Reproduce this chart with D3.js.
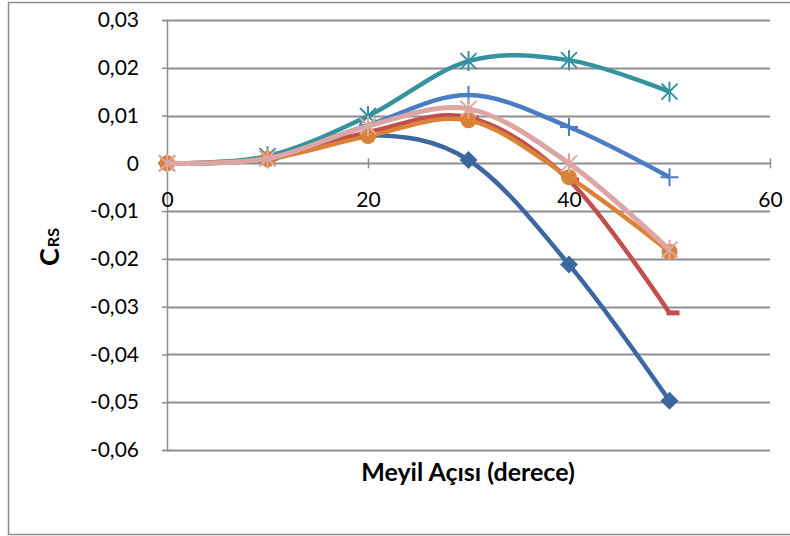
<!DOCTYPE html>
<html lang="tr">
<head>
<meta charset="utf-8">
<script src="https://cdn.jsdelivr.net/npm/d3@7"></script>
<style>
  body { margin: 0; background: #fff; }
  text { font-family: Lato, "Open Sans", sans-serif; fill: #000; }
</style>
</head>
<body>
<script>
  // angles (derece)
  var angles = [0, 10, 20, 30, 40, 50];
  // C_RS values
  var seriesDiamond = [0, 0.0008, 0.0059, 0.0007, -0.0212, -0.0497];
  var seriesRed     = [0, 0.0010, 0.0065, 0.0096, -0.0035, -0.0313];
  var seriesTeal    = [0, 0.0015, 0.0099, 0.0214, 0.0216, 0.0150];
  var seriesPlus    = [0, 0.0010, 0.0080, 0.0143, 0.0076, -0.0029];
  var seriesOrange  = [0, 0.0009, 0.0057, 0.0090, -0.0029, -0.0185];
  var seriesPink    = [0, 0.0010, 0.0078, 0.0114, 0.0000, -0.0181];
  var xTicks = [0, 20, 40, 60];
  var yTicks = [0.03, 0.02, 0.01, 0, -0.01, -0.02, -0.03, -0.04, -0.05, -0.06];

  var w = 790, h = 536;
  var plot = { left: 167, right: 770, top: 20, bottom: 450 };

  var svg = d3.select("body").append("svg")
    .attr("width", w)
    .attr("height", h);

  // chart area border
  svg.append("rect")
    .attr("x", 8.5).attr("y", 2.5)
    .attr("width", 790).attr("height", 532)
    .attr("fill", "#fff")
    .attr("stroke", "#8c8c8c")
    .attr("stroke-width", 1.5);

  var xScale = d3.scaleLinear().domain([0, 60]).range([plot.left, plot.right]);
  var yScale = d3.scaleLinear().domain([-0.06, 0.03]).range([plot.bottom, plot.top]);

  var fmt = function(d) {
    if (Math.abs(d) < 1e-9) return "0";
    return d3.format(".2f")(d).replace(".", ",").replace("−", "-");
  };

  // horizontal gridlines
  svg.append("g").selectAll("line")
    .data(yTicks)
    .enter().append("line")
    .attr("x1", plot.left).attr("x2", plot.right)
    .attr("y1", d => Math.round(yScale(d)) + 0.5)
    .attr("y2", d => Math.round(yScale(d)) + 0.5)
    .attr("stroke", "#8e8e8e")
    .attr("stroke-width", 1.8);

  // y axis
  const yAxis = d3.axisLeft(yScale).tickValues(yTicks).tickFormat(fmt).tickSize(5).tickPadding(23);
  var yg = svg.append("g")
    .attr("transform", "translate(" + plot.left + ",0)")
    .call(yAxis);
  yg.select(".domain").attr("stroke", "#8e8e8e").attr("stroke-width", 1.5);
  yg.selectAll(".tick line").attr("stroke", "#8e8e8e").attr("stroke-width", 1.5);
  yg.selectAll(".tick text").attr("font-size", 21).attr("font-family", "Lato, sans-serif");

  // x axis crosses at 0
  const xAxis = d3.axisBottom(xScale).tickValues(xTicks).tickFormat(d3.format("d")).tickSize(5).tickPadding(24);
  var xg = svg.append("g")
    .attr("transform", "translate(0," + yScale(0) + ")")
    .call(xAxis);
  xg.select(".domain").attr("stroke", "none");
  xg.selectAll(".tick line").attr("stroke", "#8e8e8e").attr("stroke-width", 1.5).attr("y1", -5);
  xg.selectAll(".tick text").attr("font-size", 21).attr("font-family", "Lato, sans-serif");

  var line = d3.line()
    .x((d, i) => xScale(angles[i]))
    .y(d => yScale(d))
    .curve(d3.curveCardinal.tension(0));

  var series = [
    { values: seriesDiamond, color: "#3C67A0", marker: "diamond", width: 4.5 },
    { values: seriesRed,     color: "#C24F4C", marker: "dash",    width: 4.5 },
    { values: seriesTeal,    color: "#35939F", marker: "star",    width: 4.5 },
    { values: seriesPlus,    color: "#4A7DC4", marker: "plus",    width: 4.5 },
    { values: seriesOrange,  color: "#DA8238", marker: "circle",  width: 4.5 },
    { values: seriesPink,    color: "#DBA6A3", marker: "x",       width: 5 }
  ];

  series.forEach(function(s) {
    var g = svg.append("g");
    g.append("path")
      .datum(s.values)
      .attr("d", line)
      .attr("fill", "none")
      .attr("stroke", s.color)
      .attr("stroke-width", s.width)
      .attr("stroke-linejoin", "round");

    var m = g.selectAll("g.marker")
      .data(s.values)
      .enter().append("g")
      .attr("class", "marker")
      .attr("transform", (d, i) => "translate(" + xScale(angles[i]) + "," + yScale(d) + ")");

    if (s.marker === "diamond") {
      m.append("path").attr("d", "M0,-9L9,0L0,9L-9,0Z").attr("fill", s.color);
    } else if (s.marker === "circle") {
      m.append("circle").attr("r", 8).attr("fill", s.color);
    } else if (s.marker === "dash") {
      m.append("rect").attr("x", -3).attr("y", -2.5).attr("width", 13).attr("height", 5).attr("fill", s.color);
    } else if (s.marker === "plus") {
      m.append("path").attr("d", "M-9,0H9M0,-9V9").attr("stroke", s.color).attr("stroke-width", 2);
    } else {
      m.append("path").attr("d", "M-8,-8L8,8M-8,8L8,-8M0,-10V10").attr("stroke", s.color).attr("stroke-width", 2);
    }
  });

  // axis titles
  svg.append("text")
    .attr("x", 468)
    .attr("y", 481)
    .attr("text-anchor", "middle")
    .attr("font-size", 25)
    .attr("font-weight", "bold")
    .text("Meyil Açısı (derece)");

  var yt = svg.append("text")
    .attr("transform", "translate(59,266) rotate(-90)")
    .attr("text-anchor", "start")
    .attr("font-weight", "bold");
  yt.append("tspan").attr("font-size", 27).text("C");
  yt.append("tspan").attr("font-size", 16).attr("dx", 1).text("RS");
</script>
</body>
</html>
